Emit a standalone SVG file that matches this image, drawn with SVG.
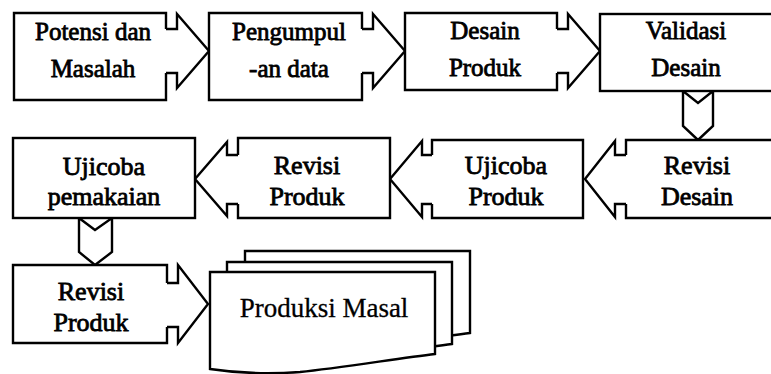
<svg xmlns="http://www.w3.org/2000/svg" width="771" height="374" viewBox="0 0 771 374">
<style>
.s{fill:#fff;stroke:#000;stroke-width:2.4;stroke-linejoin:miter}
.t{font-family:"Liberation Serif","Times New Roman",serif;fill:#000;stroke:#000;stroke-width:0.8;text-anchor:middle}
.r1{font-size:25px}
.r2{font-size:26px}
.pm{font-size:27px;stroke-width:0.3}
</style>
<defs>
<path id="doc" d="M210,272 H435 V354 C400,358 340,368 300,372 C260,375 230,372 210,369 Z"/>
</defs>
<rect width="771" height="374" fill="#fff"/>

<g id="connectors">
<path class="s" d="M166,29 H177 V14 L209,51 L177,88 V73 H166"/>
<path class="s" d="M362,29 H373 V14 L405,51 L373,88 V73 H362"/>
<path class="s" d="M557,29 H568 V14 L600,51 L568,88 V73 H557"/>
<polygon class="s" points="683,91 698,103 713,91 713,126 698,140 683,126"/>
<path class="s" d="M626,155 H615 V141 L585,179 L615,217 V204 H626"/>
<path class="s" d="M432,155 H422 V141 L390,179 L422,217 V204 H432"/>
<path class="s" d="M238,155 H227 V142 L195,179 L227,216 V204 H238"/>
<polygon class="s" points="79,218 95,230 112,218 112,252 95,265 79,252"/>
<path class="s" d="M167,283 H178 V265 L208,304 L178,343 V327 H167"/>
</g>

<g id="n1">
<path class="s" d="M166,29 V13 H14 V100 H166 V73"/>
<text class="t r1" x="93" y="40">Potensi dan</text>
<text class="t r1" x="93" y="77">Masalah</text>
</g>
<g id="n2">
<path class="s" d="M362,29 V13 H209 V100 H362 V73"/>
<text class="t r1" x="289" y="40">Pengumpul</text>
<text class="t r1" x="289" y="77">-an data</text>
</g>
<g id="n3">
<path class="s" d="M557,29 V13 H405 V90 H557 V73"/>
<text class="t r1" x="485" y="39">Desain</text>
<text class="t r1" x="485" y="76">Produk</text>
</g>
<g id="n4">
<rect class="s" x="600" y="14" width="175" height="77"/>
<text class="t r1" x="686" y="39">Validasi</text>
<text class="t r1" x="686" y="76">Desain</text>
</g>
<g id="n5">
<path class="s" d="M626,155 V140 H775 V218 H626 V204"/>
<text class="t r2" x="697" y="174">Revisi</text>
<text class="t r2" x="697" y="205">Desain</text>
</g>
<g id="n6">
<path class="s" d="M432,155 V140 H583 V218 H432 V204"/>
<text class="t r2" x="506" y="174">Ujicoba</text>
<text class="t r2" x="506" y="205">Produk</text>
</g>
<g id="n7">
<path class="s" d="M238,155 V138 H390 V218 H238 V204"/>
<text class="t r2" x="307" y="174">Revisi</text>
<text class="t r2" x="307" y="205">Produk</text>
</g>
<g id="n8">
<rect class="s" x="13" y="138" width="182" height="80"/>
<text class="t r2" x="104" y="175">Ujicoba</text>
<text class="t r2" x="104" y="205">pemakaian</text>
</g>
<g id="n9">
<path class="s" d="M167,283 V265 H13 V343 H167 V327"/>
<text class="t r2" x="91" y="300">Revisi</text>
<text class="t r2" x="91" y="331">Produk</text>
</g>
<g id="n10">
<use href="#doc" class="s" transform="translate(35,-21)"/>
<use href="#doc" class="s" transform="translate(17,-10)"/>
<use href="#doc" class="s"/>
<text class="t pm" x="324" y="317">Produksi Masal</text>
</g>
</svg>
